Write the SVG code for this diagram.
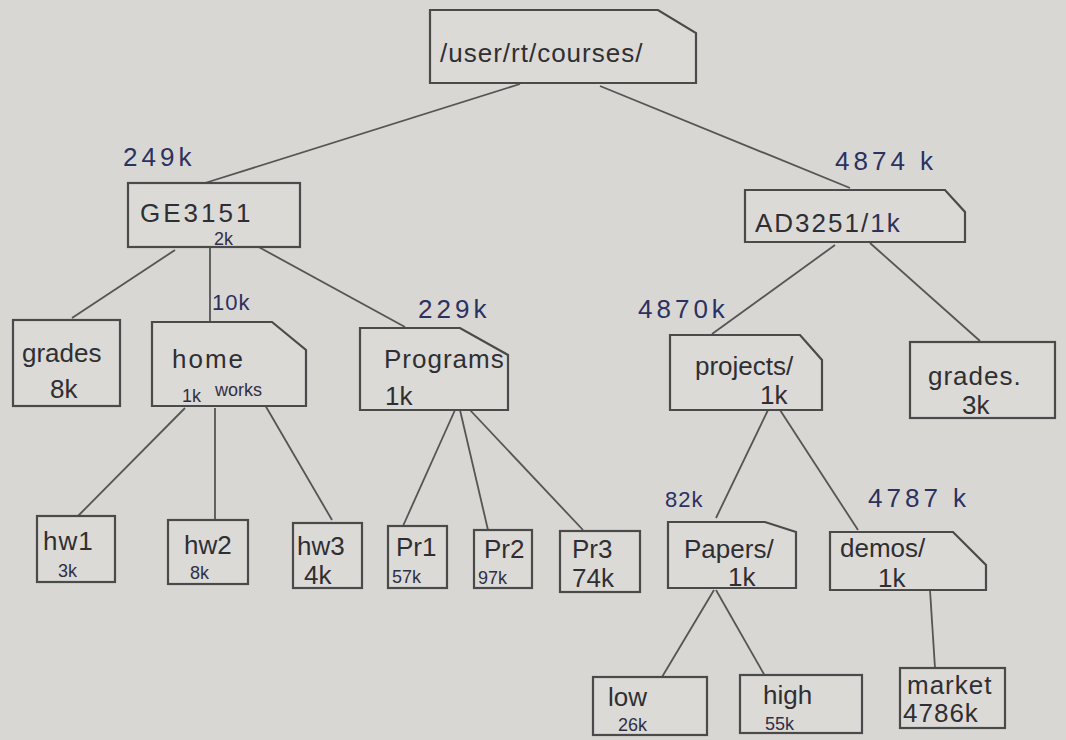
<svg xmlns="http://www.w3.org/2000/svg" width="1066" height="740" viewBox="0 0 1066 740">
<style>
.bg{fill:#d9d7d4}
.box{fill:#dcdad7;stroke:#4a4a4a;stroke-width:2.2}
.ln{stroke:#555;stroke-width:1.8;fill:none}
.t{font-family:"Liberation Sans",Arial,sans-serif;fill:#2f2f33;font-size:26px}
.s{font-family:"Liberation Sans",Arial,sans-serif;fill:#2f2f45;font-size:18px}
.n{font-family:"Liberation Sans",Arial,sans-serif;fill:#2b3160;font-size:26px;letter-spacing:4px}
.m{font-family:"Liberation Sans",Arial,sans-serif;fill:#2b3160;font-size:22px;letter-spacing:1px}
</style>
<rect class="bg" x="0" y="0" width="1066" height="740"/>
<g id="connectors">
<line class="ln" x1="520" y1="84" x2="205" y2="183"/>
<line class="ln" x1="600" y1="86" x2="850" y2="188"/>
<line class="ln" x1="175" y1="250" x2="72" y2="318"/>
<line class="ln" x1="210" y1="247" x2="210" y2="322"/>
<line class="ln" x1="255" y1="245" x2="405" y2="327"/>
<line class="ln" x1="835" y1="245" x2="712" y2="334"/>
<line class="ln" x1="870" y1="243" x2="980" y2="341"/>
<line class="ln" x1="185" y1="408" x2="78" y2="516"/>
<line class="ln" x1="215" y1="408" x2="215" y2="520"/>
<line class="ln" x1="265" y1="405" x2="332" y2="520"/>
<line class="ln" x1="455" y1="410" x2="403" y2="526"/>
<line class="ln" x1="460" y1="410" x2="488" y2="530"/>
<line class="ln" x1="470" y1="410" x2="583" y2="530"/>
<line class="ln" x1="768" y1="410" x2="716" y2="518"/>
<line class="ln" x1="780" y1="410" x2="858" y2="530"/>
<line class="ln" x1="714" y1="590" x2="662" y2="677"/>
<line class="ln" x1="716" y1="590" x2="773" y2="690"/>
<line class="ln" x1="930" y1="590" x2="935" y2="668"/>
</g>
<g id="root">
<path class="box" d="M430,10 H658 L696,33 V83 H430 Z"/>
<text class="t" x="440" y="62" font-size="36" letter-spacing="1">/user/rt/courses/</text>
</g>
<g id="ge3151">
<text class="n" x="123" y="166">249k</text>
<rect class="box" x="128" y="183" width="172" height="64"/>
<text class="t" x="140" y="222" font-size="28" letter-spacing="3">GE3151</text>
<text class="s" x="214" y="245" font-size="16">2k</text>
</g>
<g id="ad3251">
<text class="n" x="835" y="170" letter-spacing="6">4874 k</text>
<path class="box" d="M745,190 H945 L965,212 V242 H745 Z"/>
<text class="t" x="755" y="232" font-size="30" letter-spacing="2">AD3251/<tspan fill="#2b3160">1k</tspan></text>
</g>
<g id="grades1">
<rect class="box" x="13" y="320" width="107" height="86"/>
<text class="t" x="22" y="362" font-size="24">grades</text>
<text class="t" x="50" y="398" font-size="24">8k</text>
</g>
<g id="homeworks">
<text class="m" x="212" y="310">10k</text>
<path class="box" d="M152,322 H272 L306,350 V406 H152 Z"/>
<text class="t" x="172" y="368" font-size="30" letter-spacing="2">home</text>
<text class="s" x="182" y="402" font-size="20">1k</text>
<text class="s" x="215" y="396" font-size="20">works</text>
</g>
<g id="programs">
<text class="n" x="418" y="318">229k</text>
<path class="box" d="M360,328 H460 L508,355 V410 H360 Z"/>
<text class="t" x="384" y="368" font-size="24" letter-spacing="1">Programs</text>
<text class="t" x="385" y="405" font-size="24">1k</text>
</g>
<g id="projects">
<text class="n" x="638" y="318">4870k</text>
<path class="box" d="M670,335 H800 L822,360 V410 H670 Z"/>
<text class="t" x="695" y="375" font-size="24">projects/</text>
<text class="t" x="760" y="404" font-size="24">1k</text>
</g>
<g id="grades2">
<rect class="box" x="910" y="342" width="145" height="76"/>
<text class="t" x="928" y="385" font-size="28" letter-spacing="1">grades.</text>
<text class="t" x="962" y="414" font-size="24">3k</text>
</g>
<g id="hw1">
<rect class="box" x="37" y="516" width="78" height="66"/>
<text class="t" x="43" y="550" font-size="26" letter-spacing="1">hw1</text>
<text class="s" x="58" y="577" fill="#2b3160">3k</text>
</g>
<g id="hw2">
<rect class="box" x="168" y="520" width="80" height="64"/>
<text class="t" x="184" y="554" font-size="22">hw2</text>
<text class="s" x="190" y="579" fill="#2b3160">8k</text>
</g>
<g id="hw3">
<rect class="box" x="293" y="523" width="69" height="65"/>
<text class="t" x="297" y="555" font-size="22">hw3</text>
<text class="t" x="304" y="584" font-size="20">4k</text>
</g>
<g id="pr1">
<rect class="box" x="388" y="526" width="59" height="62"/>
<text class="t" x="396" y="556" font-size="22">Pr1</text>
<text class="s" x="392" y="583">57k</text>
</g>
<g id="pr2">
<rect class="box" x="474" y="530" width="58" height="58"/>
<text class="t" x="484" y="558" font-size="22">Pr2</text>
<text class="s" x="478" y="584">97k</text>
</g>
<g id="pr3">
<rect class="box" x="560" y="531" width="80" height="61"/>
<text class="t" x="572" y="558" font-size="22">Pr3</text>
<text class="t" x="572" y="587" font-size="20">74k</text>
</g>
<g id="papers">
<text class="m" x="665" y="507">82k</text>
<path class="box" d="M668,522 H765 L796,532 V588 H668 Z"/>
<text class="t" x="684" y="558" font-size="24">Papers/</text>
<text class="t" x="728" y="586" font-size="22">1k</text>
</g>
<g id="demos">
<text class="n" x="868" y="507" letter-spacing="6">4787 k</text>
<path class="box" d="M830,532 H953 L986,565 V590 H830 Z"/>
<text class="t" x="840" y="557" font-size="24">demos/</text>
<text class="t" x="878" y="587" font-size="20">1k</text>
</g>
<g id="low">
<rect class="box" x="593" y="677" width="114" height="58"/>
<text class="t" x="608" y="706">low</text>
<text class="s" x="618" y="731" fill="#2b3160">26k</text>
</g>
<g id="high">
<rect class="box" x="740" y="675" width="122" height="58"/>
<text class="t" x="763" y="704">high</text>
<text class="s" x="765" y="730">55k</text>
</g>
<g id="market">
<rect class="box" x="900" y="668" width="105" height="60"/>
<text class="t" x="907" y="694" font-size="22" letter-spacing="1">market</text>
<text class="t" x="903" y="722" font-size="19" letter-spacing="1">4786k</text>
</g>
</svg>
